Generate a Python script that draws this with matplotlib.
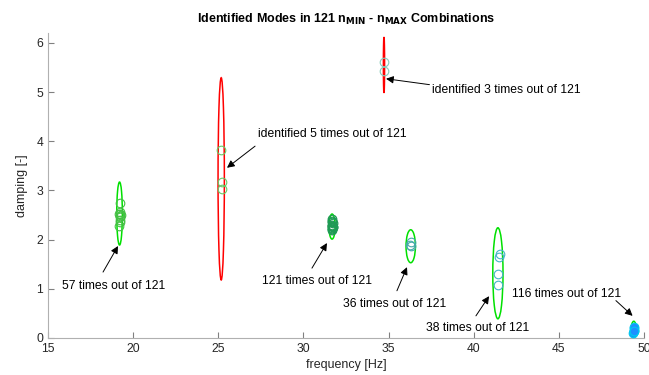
import matplotlib
matplotlib.use("Agg")
import matplotlib.pyplot as plt
from matplotlib.patches import Ellipse

plt.rcParams['font.family'] = ['Liberation Sans', 'DejaVu Sans']

# ---- data ----
# ellipses: centre frequency, centre damping, width (Hz), height (damping), colour
ell_freq = [19.20, 25.17, 34.73, 31.68, 36.30, 41.42, 49.40]
ell_damp = [2.53, 3.235, 5.55, 2.265, 1.865, 1.315, 0.17]
ell_w = [0.33, 0.37, 0.07, 0.36, 0.55, 0.60, 0.30]
ell_h = [1.28, 4.11, 1.14, 0.51, 0.67, 1.85, 0.34]
ell_col = ['#00e000', '#ff0000', '#ff0000', '#00e000', '#00e000', '#00e000', '#00e000']

# identified poles per mode (frequency, damping)
m1_f = [19.22, 19.20, 19.18, 19.22, 19.25, 19.20, 19.23, 19.18, 19.27, 19.24]
m1_d = [2.75, 2.56, 2.52, 2.48, 2.45, 2.40, 2.35, 2.28, 2.50, 2.53]
m2_f = [25.15, 25.20, 25.22]
m2_d = [3.83, 3.18, 3.03]
m3_f = [34.72, 34.72]
m3_d = [5.62, 5.43]
m4_f = [31.66, 31.70, 31.68, 31.72, 31.66, 31.69, 31.71, 31.67, 31.70, 31.68, 31.72, 31.66]
m4_d = [2.42, 2.38, 2.36, 2.33, 2.30, 2.28, 2.26, 2.24, 2.22, 2.20, 2.25, 2.27]
m5_f = [36.32, 36.30, 36.28]
m5_d = [1.95, 1.87, 1.90]
m6_f = [41.52, 41.48, 41.40, 41.45]
m6_d = [1.70, 1.65, 1.31, 1.08]
m7_f = [49.38, 49.40, 49.42, 49.39, 49.41, 49.40]
m7_d = [0.11, 0.14, 0.17, 0.20, 0.23, 0.15]

# annotations: text, text position, arrow tail, arrow head
ann_text = ['identified 3 times out of 121', 'identified 5 times out of 121',
            '57 times out of 121', '121 times out of 121', '36 times out of 121',
            '38 times out of 121', '116 times out of 121']
ann_txy = [(37.55, 5.05), (27.33, 4.15), (18.85, 1.06), (30.77, 1.16),
           (35.35, 0.69), (40.25, 0.21), (45.48, 0.89)]
ann_ha = ['left', 'left', 'center', 'center', 'center', 'center', 'center']
ann_tail = [(37.40, 5.15), (27.16, 3.90), (18.23, 1.34), (30.50, 1.42),
            (35.49, 0.96), (40.13, 0.45), (48.35, 0.76)]
ann_head = [(34.85, 5.27), (25.51, 3.46), (19.11, 1.87), (31.38, 1.93),
            (36.08, 1.44), (40.90, 0.85), (49.33, 0.45)]

fig = plt.figure(figsize=(6.49, 3.75), dpi=100)
ax = fig.add_axes([0.074, 0.0987, 0.9183, 0.8133])

for f, d, w, h, c in zip(ell_freq, ell_damp, ell_w, ell_h, ell_col):
    ax.add_patch(Ellipse((f, d), w, h, fill=False, edgecolor=c, lw=1.1, zorder=2))

ms = 6.2
ax.plot(m1_f, m1_d, 'o', mfc='none', mec='#44c044', mew=0.8, ms=ms, zorder=3)
ax.plot(m2_f, m2_d, 'o', mfc='none', mec='#66cc66', mew=0.8, ms=ms, zorder=3)
ax.plot(m3_f, m3_d, 'o', mfc='none', mec='#88ccbb', mew=0.8, ms=ms, zorder=3)
ax.plot(m4_f, m4_d, 'o', mfc='none', mec='#1f9a55', mew=0.9, ms=ms, zorder=3)
ax.plot(m5_f, m5_d, 'o', mfc='none', mec='#44aaaa', mew=0.8, ms=ms, zorder=3)
ax.plot(m6_f, m6_d, 'o', mfc='none', mec='#44b4c8', mew=0.8, ms=ms, zorder=3)
ax.plot(m7_f, m7_d, 'o', mfc='#1e90ff', mec='#00c8f0', mew=0.8, ms=ms, zorder=3)

for t, txy, ha, tail, head in zip(ann_text, ann_txy, ann_ha, ann_tail, ann_head):
    ax.annotate('', xy=head, xytext=tail, xycoords='data', textcoords='data',
                arrowprops=dict(arrowstyle='-|>', color='black', lw=0.7,
                                mutation_scale=11, shrinkA=0, shrinkB=0))
    ax.text(txy[0], txy[1], t, ha=ha, va='center', fontsize=8.7, color='black')

ax.set_xlim(15, 50)
ax.set_ylim(0, 6.2)
ax.set_xticks([15, 20, 25, 30, 35, 40, 45, 50])
ax.set_yticks([0, 1, 2, 3, 4, 5, 6])
for s in ['top', 'right']:
    ax.spines[s].set_visible(False)
for s in ['left', 'bottom']:
    ax.spines[s].set_color('#b0b0b0')
    ax.spines[s].set_linewidth(0.8)
ax.tick_params(direction='in', length=4, width=0.8, color='#808080',
               labelsize=8.7, labelcolor='#262626')
ax.set_xlabel('frequency [Hz]', fontsize=9, color='#262626', labelpad=3)
ax.set_ylabel('damping [-]', fontsize=9, color='#262626', labelpad=6)
ax.set_title(r'Identified Modes in 121 n$_{\mathbf{MIN}}$ - n$_{\mathbf{MAX}}$ Combinations',
             fontsize=9, fontweight='bold', pad=7)

fig.savefig('out.png', dpi=100)
